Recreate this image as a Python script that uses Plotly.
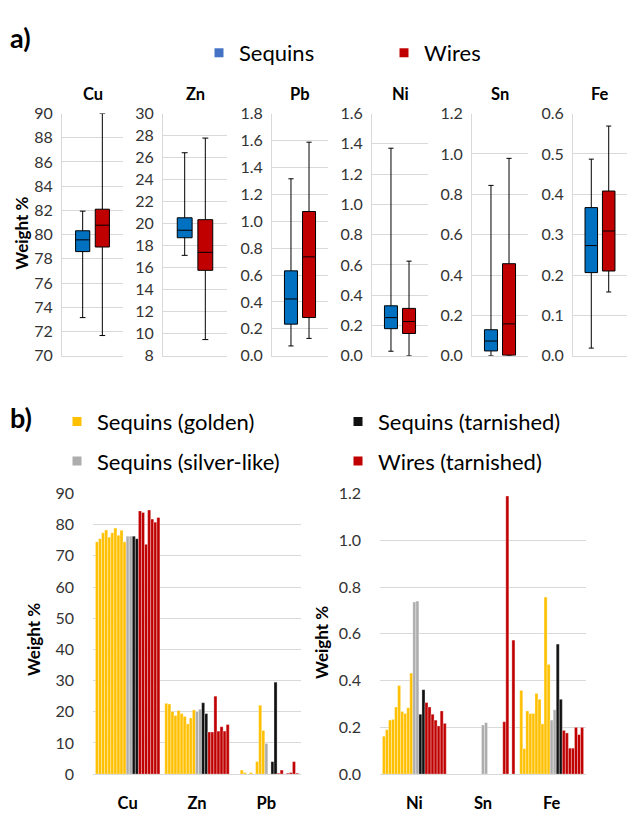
import plotly.graph_objects as go

W, H = 627, 817
FONT = "Lato"

# ---------------- panel a: box statistics ----------------
elements_a = ["Cu", "Zn", "Pb", "Ni", "Sn", "Fe"]
seq_low = [73.15, 17.12, 0.073, 0.030, 0.000, 0.019]
seq_q1 = [78.60, 18.72, 0.235, 0.179, 0.024, 0.206]
seq_med = [79.57, 19.40, 0.422, 0.252, 0.073, 0.273]
seq_q3 = [80.32, 20.53, 0.631, 0.330, 0.129, 0.367]
seq_high = [81.94, 26.44, 1.315, 1.371, 0.844, 0.487]
wir_low = [71.67, 9.47, 0.129, 0.000, 0.000, 0.158]
wir_q1 = [78.98, 15.76, 0.284, 0.147, 0.003, 0.210]
wir_med = [80.78, 17.39, 0.735, 0.226, 0.158, 0.309]
wir_q3 = [82.10, 20.36, 1.072, 0.313, 0.456, 0.408]
wir_high = [90.00, 27.77, 1.587, 0.625, 0.978, 0.569]
a_ranges = [[70, 90], [8, 30], [0, 1.8], [0, 1.6], [0, 1.2], [0, 0.6]]
a_dticks = [2, 2, 0.2, 0.2, 0.2, 0.1]
a_formats = ["d", "d", ".1f", ".1f", ".1f", ".1f"]

# ---------------- panel b: per-sample compositions ----------------
sample_type = (["golden"] * 10 + ["silver"] * 2 + ["tarnished"] * 2 + ["wires"] * 7)
cu = [74.5, 75.5, 77.4, 78.3, 76.0, 77.4, 78.9, 76.6, 78.2, 74.5,
      76.3, 76.3, 76.3, 75.5,
      84.4, 83.9, 73.7, 84.7, 81.8, 80.8, 82.3]
zn = [22.7, 22.5, 20.1, 18.8, 20.4, 19.4, 18.5, 16.1, 18.0, 20.6,
      20.1, 20.8, 22.9, 19.4,
      13.5, 13.5, 25.0, 13.8, 15.2, 13.8, 15.9]
pb = [0, 0, 1.3, 0.5, 0, 0.5, 0, 4.0, 22.1, 14.0,
      9.8, 0, 4.0, 29.5,
      0.3, 1.3, 0, 0.3, 0.5, 4.0, 0.3]
ni = [0.162, 0.190, 0.231, 0.234, 0.287, 0.379, 0.268, 0.259, 0.284, 0.432,
      0.736, 0.740, 0.256, 0.361,
      0.306, 0.287, 0.256, 0.231, 0.206, 0.270, 0.217]
sn = [0, 0, 0, 0, 0, 0, 0, 0, 0, 0,
      0.21, 0.22, 0, 0,
      0, 0, 0, 0.224, 1.189, 0, 0.573]
fe = [0.358, 0.109, 0.270, 0.259, 0.259, 0.345, 0.320, 0.215, 0.757, 0.469,
      0.231, 0.275, 0.556, 0.320,
      0.187, 0.176, 0.111, 0.111, 0.200, 0.169, 0.200]
cats_left = ["Cu", "Zn", "Pb"]
cats_right = ["Ni", "Sn", "Fe"]

colors_b = {"golden": "#FFC000", "silver": "#ADADAD", "tarnished": "#111111", "wires": "#C00000"}
names_b = {"golden": "Sequins (golden)", "silver": "Sequins (silver-like)",
           "tarnished": "Sequins (tarnished)", "wires": "Wires (tarnished)"}
BLUE, RED = "#0070C0", "#C00000"


def xd(a, b):
    return [a / W, b / W]


def yd(top, bottom):
    return [1 - bottom / H, 1 - top / H]


fig = go.Figure()
layout = dict(width=W, height=H, margin=dict(l=0, r=0, t=0, b=0),
              paper_bgcolor="white", plot_bgcolor="white",
              font=dict(family=FONT, color="#333333", size=15),
              barmode="group", bargap=0.07, bargroupgap=0, showlegend=True)

a_domains = [(62, 123), (163, 227), (272, 328), (372, 428), (472, 528), (573, 627)]
annotations = []
GRID = "#D9D9D9"
for i, el in enumerate(elements_a):
    k = i + 1
    xa = "x" if k == 1 else f"x{k}"
    ya = "y" if k == 1 else f"y{k}"
    for pos, lo, q1, md, q3, hi, col in [
        (0, seq_low, seq_q1, seq_med, seq_q3, seq_high, BLUE),
        (1, wir_low, wir_q1, wir_med, wir_q3, wir_high, RED),
    ]:
        fig.add_trace(go.Box(x=[pos], q1=[q1[i]], median=[md[i]], q3=[q3[i]],
                             lowerfence=[lo[i]], upperfence=[hi[i]],
                             fillcolor=col, line=dict(color="black", width=1),
                             width=0.72, whiskerwidth=0.4, boxpoints=False,
                             xaxis=xa, yaxis=ya, showlegend=False, hoverinfo="skip"))
    layout[f"xaxis{k}" if k > 1 else "xaxis"] = dict(
        domain=xd(*a_domains[i]), range=[-1.05, 2.05], showticklabels=False,
        showgrid=False, zeroline=False, showline=True, linecolor=GRID, linewidth=1,
        anchor=ya, ticks="")
    layout[f"yaxis{k}" if k > 1 else "yaxis"] = dict(
        domain=yd(106, 354), range=a_ranges[i], dtick=a_dticks[i], tick0=0,
        tickformat=a_formats[i], showgrid=True, gridcolor=GRID, gridwidth=1,
        zeroline=False, showline=True, linecolor=GRID, anchor=xa, ticks="",
        ticklabelstandoff=5, tickfont=dict(size=16, color="#333333"))
    annotations.append(dict(text=f"<b>{el}</b>", x=sum(a_domains[i]) / 2 / W, y=1 - 86 / H,
                            xref="paper", yref="paper", showarrow=False,
                            font=dict(size=16.5, color="black"), xanchor="center", yanchor="middle"))

# ---------------- panel b bars ----------------
for j, t in enumerate(sample_type):
    lc = dict(color="rgba(255,255,255,0.55)", width=0.6)
    fig.add_trace(go.Bar(x=cats_left, y=[cu[j], zn[j], pb[j]], marker=dict(color=colors_b[t], line=lc),
                         xaxis="x7", yaxis="y7", showlegend=False, hoverinfo="skip"))
    fig.add_trace(go.Bar(x=cats_right, y=[ni[j], sn[j], fe[j]], marker=dict(color=colors_b[t], line=lc),
                         xaxis="x8", yaxis="y8", showlegend=False, hoverinfo="skip"))

for k, dom, ya, rng, dt, fmt in [(7, (93, 301), "y7", [0, 90], 10, "d"),
                                 (8, (380, 586), "y8", [0, 1.2], 0.2, ".1f")]:
    layout[f"xaxis{k}"] = dict(domain=xd(*dom), anchor=ya, showgrid=False, zeroline=False,
                               showline=True, linecolor=GRID, linewidth=1, ticks="",
                               ticklabelstandoff=14,
                               tickfont=dict(size=16.5, color="black", weight="bold"))
    layout[f"yaxis{k}"] = dict(domain=yd(495, 782.3), anchor=f"x{k}", range=rng, dtick=dt,
                               tick0=0, tickformat=fmt, showgrid=True, gridcolor=GRID,
                               zeroline=False, showline=False, ticks="", ticklabelstandoff=18,
                               tickfont=dict(size=16, color="#333333"))

# ---------------- legends (dummy marker traces) ----------------
for name, col in [("Sequins", "#4472C4"), ("Wires", RED)]:
    fig.add_trace(go.Scatter(x=[None], y=[None], mode="markers", name=name,
                             marker=dict(symbol="square", size=9, color=col), legend="legend"))
for t, leg in [("golden", "legend2"), ("silver", "legend2"), ("tarnished", "legend3"), ("wires", "legend3")]:
    fig.add_trace(go.Scatter(x=[None], y=[None], mode="markers", name=names_b[t],
                             legendgroup=t, marker=dict(symbol="square", size=9, color=colors_b[t]),
                             legend=leg))

legfont = dict(size=22, color="black", family=FONT)
layout["legend"] = dict(orientation="h", x=199 / W, y=1 - 44 / H, xanchor="left", yanchor="middle",
                        font=legfont, entrywidth=140, bgcolor="rgba(0,0,0,0)")
layout["legend2"] = dict(orientation="v", x=57 / W, y=1 - 400 / H, xanchor="left", yanchor="top",
                         font=legfont, tracegroupgap=8, bgcolor="rgba(0,0,0,0)")
layout["legend3"] = dict(orientation="v", x=338 / W, y=1 - 400 / H, xanchor="left", yanchor="top",
                         font=legfont, tracegroupgap=8, bgcolor="rgba(0,0,0,0)")

# ---------------- text ----------------
annotations += [
    dict(text="<b>a)</b>", x=8 / W, y=1 - 28 / H, font=dict(size=27, color="black")),
    dict(text="<b>b)</b>", x=8 / W, y=1 - 417 / H, font=dict(size=27, color="black")),
]
for a in annotations[-2:]:
    a.update(xref="paper", yref="paper", showarrow=False, xanchor="left", yanchor="middle")
for xc, yc in [(22, 229), (33, 645), (322, 648)]:
    annotations.append(dict(text="<b>Weight %</b>", x=xc / W, y=1 - yc / H, xref="paper", yref="paper",
                            showarrow=False, textangle=-90, xanchor="center", yanchor="middle",
                            font=dict(size=17, color="black")))
layout["annotations"] = annotations

fig.update_layout(**layout)
fig.write_html("out.html")
